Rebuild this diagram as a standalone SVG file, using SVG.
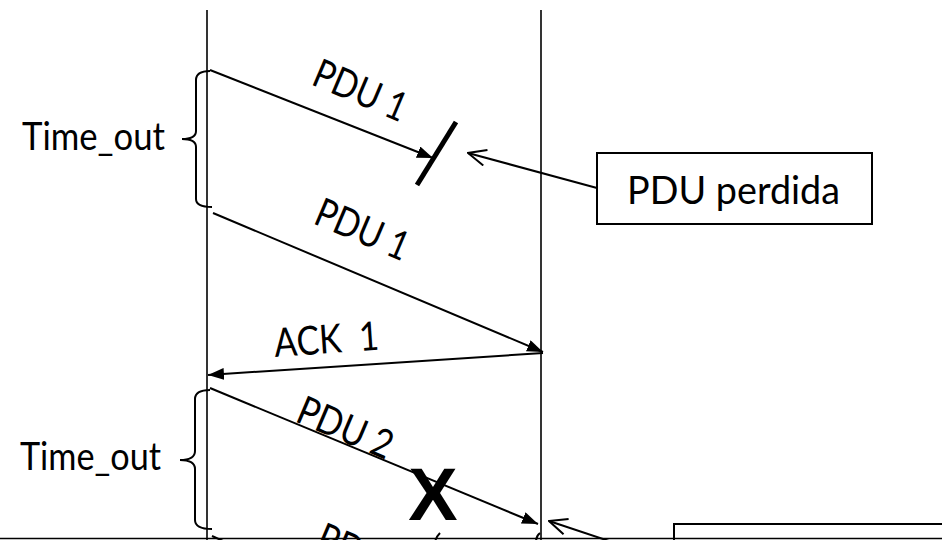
<svg xmlns="http://www.w3.org/2000/svg" width="942" height="540" viewBox="0 0 942 540">
<style>
.t{font-family:Lato,"Noto Sans",sans-serif;font-size:38px;fill:#000}
.r{font-size:40px}
.ln{stroke:#000;stroke-width:2;fill:none}
.life{stroke:#000;stroke-width:1.6}
.box{fill:#fff;stroke:#000;stroke-width:2}
</style>
<defs>
<marker id="arr" viewBox="0 0 16 12" refX="16" refY="6" markerWidth="16" markerHeight="12" markerUnits="userSpaceOnUse" orient="auto"><path d="M0,0 L16,6 L0,12 z" fill="#000"/></marker>
<marker id="open" viewBox="0 0 20 18" refX="19" refY="9" markerWidth="20" markerHeight="18" markerUnits="userSpaceOnUse" orient="auto"><path d="M1,1 L19,9 L1,17" fill="none" stroke="#000" stroke-width="2"/></marker>
</defs>
<rect width="942" height="540" fill="#fff"/>
<g id="lifelines">
<line class="life" x1="207" y1="10" x2="207" y2="540"/>
<line class="life" x1="541" y1="10" x2="541" y2="540"/>
</g>
<g id="timeout1">
<path class="ln" d="M210,71 C200,71 196,74 196,80 L196,131 C196,136 191,139 182,139 C191,139 196,142 196,147 L196,199 C196,204 200,207 212,207"/>
<text class="t" x="22" y="150" textLength="143" lengthAdjust="spacingAndGlyphs" font-size="34">Time_out</text>
</g>
<g id="timeout2">
<path class="ln" d="M210,390 C200,390 195,393 195,399 L195,451 C195,457 190,460 180,460 C190,460 195,463 195,469 L195,520 C195,526 200,529 212,529"/>
<text class="t" x="20" y="470" textLength="141" lengthAdjust="spacingAndGlyphs" font-size="34">Time_out</text>
</g>
<g id="connectors">
<line class="ln" x1="210" y1="70" x2="433" y2="158" marker-end="url(#arr)"/>
<line class="ln" x1="213" y1="213" x2="543" y2="352" marker-end="url(#arr)"/>
<line class="ln" x1="543" y1="353" x2="208" y2="375" marker-end="url(#arr)"/>
<line class="ln" x1="210" y1="388" x2="538" y2="524" marker-end="url(#arr)"/>
<line class="ln" x1="597" y1="188" x2="468" y2="153" marker-end="url(#open)"/>
<line class="ln" x1="612" y1="542" x2="549" y2="521" marker-end="url(#open)"/>
<line class="ln" x1="212" y1="536" x2="230" y2="544"/>
<path class="ln" d="M440,533 Q436,537 435,542"/>
<path class="ln" d="M540,533 Q536,536 536,542"/>
</g>
<g id="labels">
<text class="t r" transform="translate(310,84) rotate(23)" textLength="98" lengthAdjust="spacingAndGlyphs">PDU 1</text>
<text class="t r" transform="translate(312,223) rotate(23)" textLength="98" lengthAdjust="spacingAndGlyphs">PDU 1</text>
<text class="t r" transform="translate(275,357) rotate(-4)" textLength="105" lengthAdjust="spacingAndGlyphs" xml:space="preserve">ACK  1</text>
<text class="t r" transform="translate(294,421) rotate(23)" textLength="100" lengthAdjust="spacingAndGlyphs">PDU 2</text>
<text class="t r" transform="translate(314,548) rotate(23)" textLength="98" lengthAdjust="spacingAndGlyphs">PDU 2</text>
</g>
<g id="lost1">
<line x1="456" y1="122" x2="417" y2="185" stroke="#000" stroke-width="5"/>
</g>
<g id="lost2">
<text x="433" y="520" font-family="'Liberation Sans',Arial,sans-serif" font-weight="bold" font-size="74" text-anchor="middle" fill="#000">X</text>
</g>
<g id="box-perdida">
<rect class="box" x="597" y="153" width="275" height="71"/>
<text class="t" x="627" y="204" textLength="213" lengthAdjust="spacingAndGlyphs">PDU perdida</text>
</g>
<g id="box-bottom">
<rect class="box" x="674" y="524" width="300" height="40"/>
</g>
<line id="bottom-edge" x1="0" y1="538.5" x2="942" y2="538.5" stroke="#000" stroke-width="1.5"/>
</svg>
